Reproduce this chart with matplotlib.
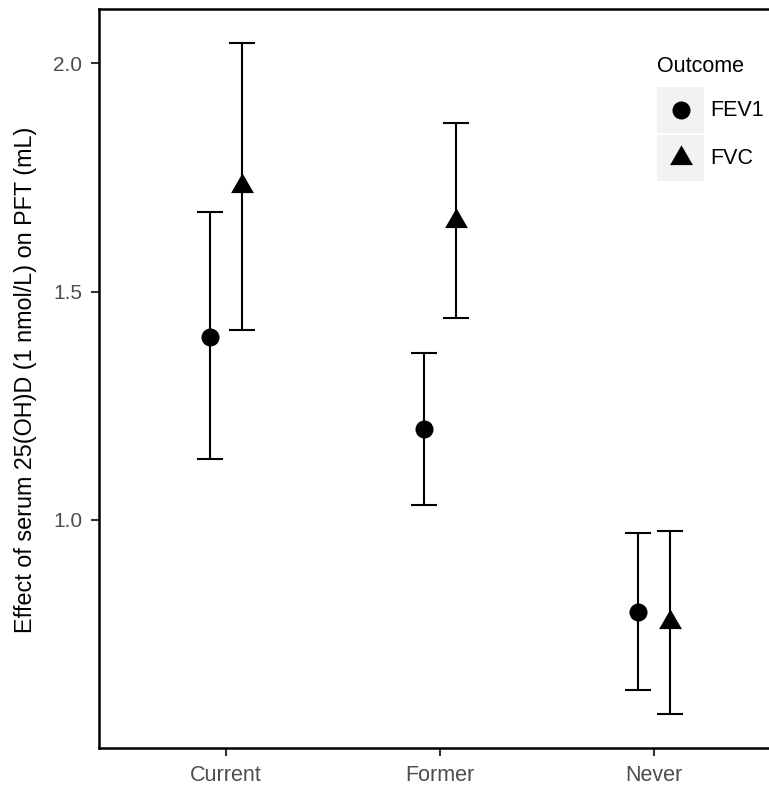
import numpy as np
import matplotlib
matplotlib.use("Agg")
import matplotlib.pyplot as plt
from matplotlib.patches import Rectangle
from matplotlib.lines import Line2D

plt.rcParams["font.family"] = ["Liberation Sans", "DejaVu Sans"]

# ---- data ----
groups = ["Current", "Former", "Never"]
outcomes = ["FEV1", "FVC"]
fev1_est = [1.401, 1.198, 0.797]
fev1_lo = [1.133, 1.033, 0.627]
fev1_hi = [1.675, 1.365, 0.970]
fvc_est = [1.732, 1.655, 0.776]
fvc_lo = [1.415, 1.443, 0.575]
fvc_hi = [2.045, 1.869, 0.975]

estimates = [fev1_est, fvc_est]
lows = [fev1_lo, fvc_lo]
highs = [fev1_hi, fvc_hi]
markers = ["o", (3, 0, 0)]   # circle, equilateral triangle (ggplot shapes 16/17)
msizes = [13, 19]
dodge = [-0.074, 0.074]

fig = plt.figure(figsize=(7.69, 7.87), dpi=100)
ax = fig.add_axes([99 / 769, 1 - 748 / 787, 1 - 99 / 769, (748 - 9) / 787])

x = np.arange(1, len(groups) + 1)
for k in range(len(outcomes)):
    est = np.array(estimates[k])
    err = np.vstack([est - np.array(lows[k]), np.array(highs[k]) - est])
    ax.errorbar(x + dodge[k], est, yerr=err, fmt="none", ecolor="black",
                elinewidth=1.5, capsize=9.4, capthick=1.5)
    ax.plot(x + dodge[k], est, linestyle="none", marker=markers[k],
            ms=msizes[k], color="black", markeredgewidth=0, zorder=3)

ax.set_xlim(0.406, 3.539)
ax.set_ylim(0.50, 2.119)
ax.set_xticks(x)
ax.set_xticklabels(groups)
ax.set_yticks([1.0, 1.5, 2.0])
ax.set_yticklabels(["1.0", "1.5", "2.0"])
ax.tick_params(axis="both", colors="#333333", labelcolor="#4D4D4D",
               length=5.5, width=1.5)
ax.tick_params(axis="y", labelsize=15, pad=6.5)
ax.tick_params(axis="x", labelsize=15.5, pad=7)
ax.set_ylabel("Effect of serum 25(OH)D (1 nmol/L) on PFT (mL)", fontsize=16.8)
ax.yaxis.set_label_coords(26 / 769, 1 - 380 / 787, transform=fig.transFigure)
ax.yaxis.label.set_va("center")
for side in ["left", "bottom", "top"]:
    ax.spines[side].set_linewidth(1.8)
ax.spines["right"].set_visible(False)

# ---- legend drawn like ggplot's: grey key boxes ----
fig.text(657 / 769, 1 - 67 / 787, "Outcome", fontsize=15.5, va="center",
         ha="left")
key_w, key_h = 47 / 769, 46 / 787
for i, lab in enumerate(outcomes):
    y0 = 1 - (87 + i * 48) / 787 - key_h
    fig.add_artist(Rectangle((657 / 769, y0), key_w, key_h,
                             transform=fig.transFigure, facecolor="#F2F2F2",
                             edgecolor="none"))
    fig.add_artist(Line2D([657 / 769 + key_w / 2], [y0 + key_h / 2],
                          marker=markers[i], ms=msizes[i], color="black",
                          markeredgewidth=0, transform=fig.transFigure))
    fig.text(710 / 769, y0 + key_h / 2, lab, fontsize=15.5, va="center",
             ha="left")

fig.savefig("out.png", dpi=100)
